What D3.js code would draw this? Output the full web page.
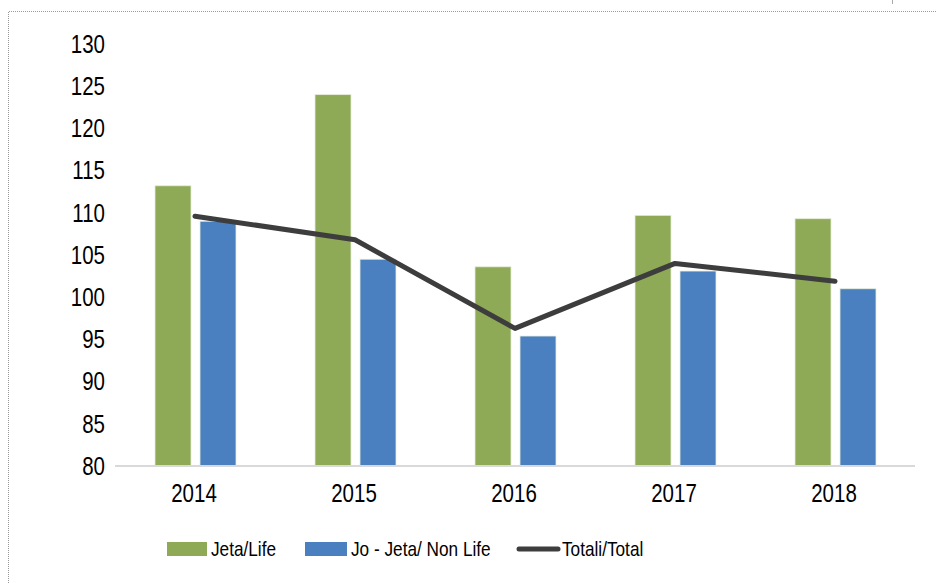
<!DOCTYPE html>
<html>
<head>
<meta charset="utf-8">
<script src="https://cdn.jsdelivr.net/npm/d3@7"></script>
<style>
body { margin: 0; background: #fff; }
text {
    font-family: "Liberation Sans", Arial, sans-serif;
    fill: #000;
}
.axis-label { font-size: 25px; }
.legend-label { font-size: 21px; }
</style>
</head>
<body>
<div id="container"></div>
<script>
// data
var years = ["2014", "2015", "2016", "2017", "2018"];
var life = [113.2, 124.0, 103.6, 109.7, 109.3];
var nonLife = [109.0, 104.5, 95.4, 103.1, 101.0];
var total = [109.6, 106.8, 96.3, 104.0, 101.9];
var yTicks = [80, 85, 90, 95, 100, 105, 110, 115, 120, 125, 130];

var seriesNames = ["Jeta/Life", "Jo - Jeta/ Non Life", "Totali/Total"];
var colors = { life: "#8eaa56", nonLife: "#4a80bf", total: "#3d3d3d" };

var width = 937, height = 583;
var narrow = 0.82; // no narrow font installed, squeeze the regular one

var svg = d3.select("#container").append("svg")
    .attr("width", width)
    .attr("height", height);

// dotted frame (top and left only show in the shot)
svg.append("path")
    .attr("d", "M8.5," + height + "V11.5H" + width)
    .attr("fill", "none")
    .attr("stroke", "#9a9a9a")
    .attr("stroke-width", 1)
    .attr("stroke-dasharray", "1,1");
svg.append("line")
    .attr("x1", 892.5).attr("x2", 892.5)
    .attr("y1", 0).attr("y2", 4)
    .attr("stroke", "#aaa");

var x = d3.scaleBand().domain(years).range([115, 915]);
var inner = d3.scaleBand().domain(["life", "nonLife"]).range([40, 121]).paddingInner(0.2);
var y = d3.scaleLinear().domain([80, 130]).range([466, 44]);

function label(sel, cls, px, py, anchor, txt) {
    sel.append("g")
        .attr("transform", "translate(" + px + "," + py + ") scale(" + narrow + ",1)")
        .append("text")
        .attr("class", cls)
        .attr("dy", ".35em")
        .attr("text-anchor", anchor)
        .text(txt);
}

// y tick labels
var gy = svg.append("g");
yTicks.forEach(function(t) {
    label(gy, "axis-label", 105, y(t), "end", t);
});

var rows = years.map(function(yr, i) {
    return { year: yr, life: life[i], nonLife: nonLife[i], total: total[i] };
});

// bars
var groups = svg.append("g")
    .selectAll("g")
    .data(rows)
    .enter()
    .append("g")
    .attr("transform", function(d) { return "translate(" + x(d.year) + ",0)"; });

groups.selectAll("rect")
    .data(function(d) {
        return [{ key: "life", v: d.life }, { key: "nonLife", v: d.nonLife }];
    })
    .enter()
    .append("rect")
    .attr("x", function(d) { return inner(d.key); })
    .attr("y", function(d) { return y(d.v); })
    .attr("width", inner.bandwidth())
    .attr("height", function(d) { return y(80) - y(d.v); })
    .attr("fill", function(d) { return colors[d.key]; })
    .attr("stroke", "#e6ecd9")
    .attr("stroke-width", 0.8);

// x axis line
svg.append("line")
    .attr("x1", 115).attr("x2", 915)
    .attr("y1", y(80)).attr("y2", y(80))
    .attr("stroke", "#d9d9d9")
    .attr("stroke-width", 2);

// year labels
var gx = svg.append("g");
years.forEach(function(yr) {
    label(gx, "axis-label", x(yr) + x.bandwidth() / 2 - 1, 493, "middle", yr);
});

// total line
var line = d3.line()
    .x(function(d) { return x(d.year) + x.bandwidth() / 2; })
    .y(function(d) { return y(d.total); });

svg.append("path")
    .datum(rows)
    .attr("d", line)
    .attr("fill", "none")
    .attr("stroke", colors.total)
    .attr("stroke-width", 5)
    .attr("stroke-linecap", "round")
    .attr("stroke-linejoin", "round");

// legend
var legY = 549;
var lg = svg.append("g");
lg.append("rect").attr("x", 167).attr("y", legY - 7).attr("width", 40).attr("height", 14).attr("fill", colors.life);
label(lg, "legend-label", 211, legY, "start", seriesNames[0]);
lg.append("rect").attr("x", 305).attr("y", legY - 7).attr("width", 42).attr("height", 14).attr("fill", colors.nonLife);
label(lg, "legend-label", 351, legY, "start", seriesNames[1]);
lg.append("line").attr("x1", 519).attr("x2", 558).attr("y1", legY).attr("y2", legY)
    .attr("stroke", colors.total).attr("stroke-width", 5).attr("stroke-linecap", "round");
label(lg, "legend-label", 562, legY, "start", seriesNames[2]);
</script>
</body>
</html>
